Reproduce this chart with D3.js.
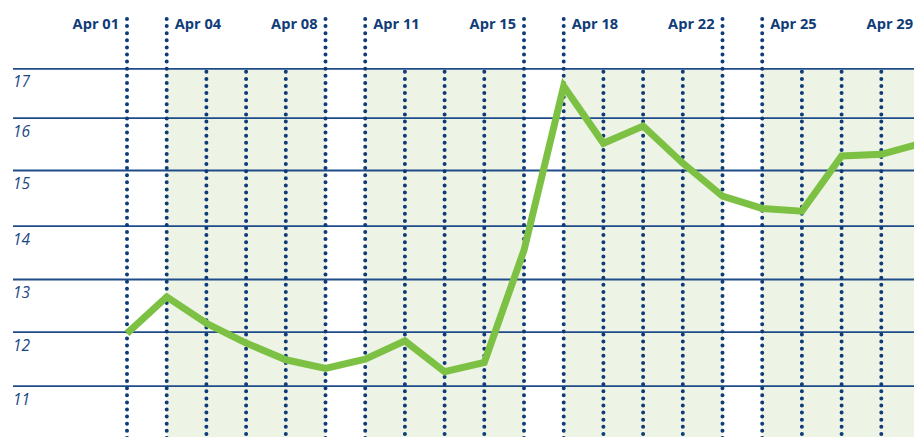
<!DOCTYPE html>
<html>
<head>
<meta charset="utf-8">
<script src="https://cdn.jsdelivr.net/npm/d3@7"></script>
<style>
  html, body { margin: 0; padding: 0; background: #fff; }
  svg { display: block; }
</style>
</head>
<body>
<div id="chart"></div>
<script>
// trading days (weekdays only), April 2022
const dates = [
  '2022-04-01', '2022-04-04', '2022-04-05', '2022-04-06', '2022-04-07', '2022-04-08',
  '2022-04-11', '2022-04-12', '2022-04-13', '2022-04-14', '2022-04-15',
  '2022-04-18', '2022-04-19', '2022-04-20', '2022-04-21', '2022-04-22',
  '2022-04-25', '2022-04-26', '2022-04-27', '2022-04-28', '2022-04-29',
];
const values = [
  11.97, 12.66, 12.16, 11.79, 11.48, 11.32,
  11.49, 11.83, 11.26, 11.43, 13.54,
  16.64, 15.51, 15.84, 15.13, 14.53,
  14.31, 14.26, 15.27, 15.30, 15.51,
];
const labelDates = [
  '2022-04-01', '2022-04-04', '2022-04-08', '2022-04-11', '2022-04-15',
  '2022-04-18', '2022-04-22', '2022-04-25', '2022-04-29',
];
const yTicks = [11, 12, 13, 14, 15, 16, 17];

const width = 914;
const height = 437;
const navy = '#0f3c78';
const gridColor = '#1f4c88';
const lineColor = '#7cc143';
const bandColor = '#eef4e5';

const parse = d3.timeParse('%Y-%m-%d');
const fmt = d3.timeFormat('%b %d');

const x = d3.scalePoint().domain(dates).range([127, 921]);
// gridlines in the source are not evenly spaced, so map each tick to its row
const y = d3.scaleLinear().domain(yTicks).range([385.7, 331.7, 279, 225.7, 170, 117.7, 68.3]);

const svg = d3.select('#chart').append('svg')
  .attr('width', width).attr('height', height)
  .attr('viewBox', `0 0 ${width} ${height}`);

const plotTop = y(17);

// weekday bands: Monday -> Friday
const weeks = [];
dates.forEach((d) => {
  const day = parse(d).getDay();
  if (day === 1) weeks.push({ start: d, end: d });
  if (weeks.length && day !== 1) weeks[weeks.length - 1].end = d;
});
svg.append('g').selectAll('rect')
  .data(weeks)
  .join('rect')
  .attr('x', (d) => x(d.start))
  .attr('y', plotTop)
  .attr('width', (d) => (parse(d.end).getDay() === 5 ? x(d.end) - x(d.start) : width - x(d.start)))
  .attr('height', height - plotTop)
  .attr('fill', bandColor);

// horizontal gridlines + italic labels
const yAxis = svg.append('g')
  .attr('transform', 'translate(13,0)')
  .call(d3.axisRight(y).tickValues(yTicks).tickSize(width).tickFormat(d3.format('d')));
yAxis.select('.domain').remove();
yAxis.selectAll('.tick line').attr('stroke', gridColor).attr('stroke-width', 1.8);
yAxis.selectAll('.tick text')
  .attr('x', 0).attr('dy', 0).attr('y', 18.5)
  .attr('text-anchor', 'start')
  .style('font-family', '"Open Sans", sans-serif')
  .style('font-style', 'italic')
  .style('font-size', '15.5px')
  .attr('fill', '#1a4784');

// dotted day lines
const isLabel = new Set(labelDates);
svg.append('g').selectAll('line')
  .data(dates)
  .join('line')
  .attr('x1', (d) => x(d)).attr('x2', (d) => x(d))
  .attr('y1', (d) => (isLabel.has(d) ? 19 : plotTop + 3.5))
  .attr('y2', height + 4)
  .attr('stroke', navy)
  .attr('stroke-width', 4)
  .attr('stroke-linecap', 'round')
  .attr('stroke-dasharray', '0 7.1');

// date labels: Fridays to the left of their line, Mondays to the right
svg.append('g').selectAll('text')
  .data(labelDates)
  .join('text')
  .attr('x', (d) => (parse(d).getDay() === 5 ? x(d) - 8 : x(d) + 8))
  .attr('y', 28.5)
  .attr('text-anchor', (d) => (parse(d).getDay() === 5 ? 'end' : 'start'))
  .style('font-family', '"Open Sans", sans-serif')
  .style('font-weight', 700)
  .style('font-size', '14.6px')
  .attr('fill', navy)
  .text((d) => fmt(parse(d)));

// series line
const line = d3.line()
  .x((d, i) => x(dates[i]))
  .y((d) => y(d));
svg.append('path')
  .datum(values)
  .attr('d', line)
  .attr('fill', 'none')
  .attr('stroke', lineColor)
  .attr('stroke-width', 7)
  .attr('stroke-linejoin', 'miter');
</script>
</body>
</html>
